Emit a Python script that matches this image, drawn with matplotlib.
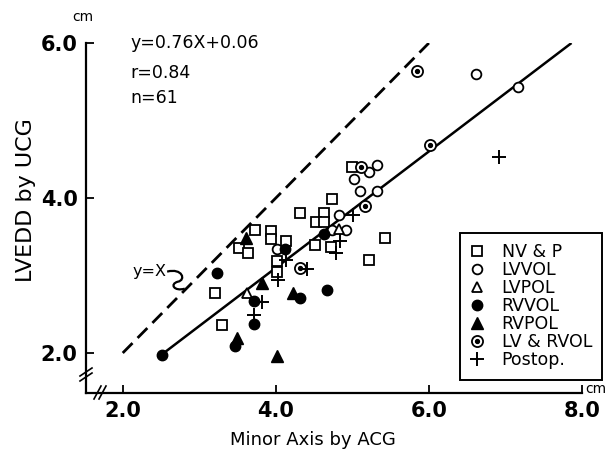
import matplotlib
matplotlib.use('Agg')
import matplotlib.pyplot as plt
from matplotlib.lines import Line2D
from matplotlib.path import Path
from matplotlib.patches import PathPatch

# NV & P (open squares)
nvp_x = [5.00, 4.73, 4.31, 4.63, 4.52, 4.63, 5.42, 4.51, 4.72, 5.22,
         3.73, 3.52, 3.63, 3.94, 3.94, 4.13, 4.02, 4.02, 3.20, 3.30]
nvp_y = [4.40, 3.99, 3.80, 3.80, 3.69, 3.69, 3.49, 3.39, 3.37, 3.20,
         3.59, 3.35, 3.29, 3.57, 3.47, 3.45, 3.19, 3.05, 2.78, 2.36]

# LVVOL (open circles)
lvvol_x = [5.22, 5.32, 5.02, 5.10, 5.32, 4.82, 4.73, 4.92, 4.02, 6.62, 7.16]
lvvol_y = [4.34, 4.42, 4.25, 4.09, 4.09, 3.78, 3.59, 3.59, 3.34, 5.60, 5.43]

# LVPOL (open triangles)
lvpol_x = [4.82, 3.62]
lvpol_y = [3.60, 2.77]

# RVVOL (filled circles)
rvvol_x = [4.63, 4.12, 3.23, 2.51, 3.72, 3.71, 3.47, 4.32, 4.67]
rvvol_y = [3.54, 3.34, 3.03, 1.98, 2.67, 2.38, 2.09, 2.71, 2.81]

# RVPOL (filled triangles)
rvpol_x = [3.61, 3.82, 3.49, 4.01, 4.22]
rvpol_y = [3.48, 2.90, 2.19, 1.96, 2.78]

# LV & RVOL (dotted circles)
lvrv_x = [5.11, 5.17, 4.31, 5.84, 6.01]
lvrv_y = [4.40, 3.90, 3.10, 5.64, 4.69]

# Postop. (plus)
post_x = [5.01, 4.84, 4.79, 4.41, 4.13, 3.82, 3.71, 4.03, 6.92]
post_y = [3.78, 3.44, 3.29, 3.09, 3.20, 2.66, 2.49, 2.94, 4.53]

# identity line and regression line ends
ident_x = [2.0, 6.0]
ident_y = [2.0, 6.0]
reg_x = [2.51, 7.85]
reg_y = [1.98, 5.99]

xticks = [2.0, 4.0, 6.0, 8.0]
yticks = [2.0, 4.0, 6.0]
labels = ['NV & P', 'LVVOL', 'LVPOL', 'RVVOL', 'RVPOL', 'LV & RVOL', 'Postop.']

W, H = 608, 451
fig = plt.figure(figsize=(W / 100, H / 100), dpi=100)
ax = fig.add_axes([86 / W, 1 - 392.5 / H, (582 - 86) / W, (392.5 - 43) / H])

ax.plot(ident_x, ident_y, color='k', lw=2.0, ls=(0, (5, 2.6)), zorder=2)
ax.plot(reg_x, reg_y, color='k', lw=1.8, zorder=2)

h_sq, = ax.plot(nvp_x, nvp_y, 's', ms=6.5, mfc='white', mec='k', mew=1.3, ls='none', zorder=3)
h_c, = ax.plot(lvvol_x, lvvol_y, 'o', ms=7, mfc='white', mec='k', mew=1.3, ls='none', zorder=3)
h_ot, = ax.plot(lvpol_x, lvpol_y, '^', ms=7.5, mfc='white', mec='k', mew=1.3, ls='none', zorder=3)
h_fc, = ax.plot(rvvol_x, rvvol_y, 'o', ms=7.5, mfc='k', mec='k', ls='none', zorder=3)
h_ft, = ax.plot(rvpol_x, rvpol_y, '^', ms=8, mfc='k', mec='k', ls='none', zorder=3)
h_lv1, = ax.plot(lvrv_x, lvrv_y, 'o', ms=8, mfc='white', mec='k', mew=1.3, ls='none', zorder=3)
h_lv2, = ax.plot(lvrv_x, lvrv_y, 'o', ms=2.8, mfc='k', mec='k', ls='none', zorder=4)
h_p, = ax.plot(post_x, post_y, '+', ms=10, mec='k', mew=1.4, ls='none', zorder=3)

ax.set_xlim(1.52, 8.0)
ax.set_ylim(1.49, 6.0)
ax.spines['top'].set_visible(False)
ax.spines['right'].set_visible(False)
ax.spines['left'].set_linewidth(1.6)
ax.spines['bottom'].set_linewidth(1.6)
ax.set_xticks(xticks)
ax.set_xticklabels(['%.1f' % v for v in xticks])
ax.set_yticks(yticks)
ax.set_yticklabels(['%.1f' % v for v in yticks])
ax.tick_params(direction='in', length=6, width=1.3, labelsize=15, pad=6)
for t in ax.get_xticklabels() + ax.get_yticklabels():
    t.set_fontweight('bold')

# equation text
ax.text(2.095, 6.0, 'y=0.76X+0.06', fontsize=12.5, va='center', ha='left')
ax.text(2.095, 5.61, 'r=0.84', fontsize=12.5, va='center', ha='left')
ax.text(2.095, 5.29, 'n=61', fontsize=12.5, va='center', ha='left')

# y=X label with squiggle pointing at the dashed line
ax.text(2.13, 3.05, 'y=X', fontsize=11.5, va='center', ha='left')
verts = [(2.58, 3.05), (2.78, 3.10), (2.83, 2.94), (2.72, 2.92),
         (2.61, 2.89), (2.67, 2.79), (2.81, 2.83)]
codes = [Path.MOVETO, Path.CURVE4, Path.CURVE4, Path.CURVE4,
         Path.CURVE4, Path.CURVE4, Path.CURVE4]
ax.add_patch(PathPatch(Path(verts, codes), fc='none', ec='k', lw=1.6))

# units
fig.text(83 / W, 1 - 17 / H, 'cm', fontsize=10, ha='center', va='center')
fig.text(596 / W, 1 - 389 / H, 'cm', fontsize=10, ha='center', va='center')

# axis labels
fig.text(313 / W, 1 - 440 / H, 'Minor Axis by ACG', fontsize=13, ha='center', va='center')
fig.text(26 / W, 1 - 200 / H, 'LVEDD by UCG', fontsize=16, ha='center', va='center', rotation=90)

# axis break marks
for x0 in (94, 99):
    fig.add_artist(Line2D([x0 / W, (x0 + 7) / W], [1 - 399 / H, 1 - 386 / H],
                          transform=fig.transFigure, color='k', lw=1.2))
for y0 in (372, 377):
    fig.add_artist(Line2D([80 / W, 92 / W], [1 - (y0 + 4) / H, 1 - (y0 - 4) / H],
                          transform=fig.transFigure, color='k', lw=1.2))

leg = ax.legend([h_sq, h_c, h_ot, h_fc, h_ft, (h_lv1, h_lv2), h_p], labels,
                loc='upper left', bbox_to_anchor=(460 / W, 1 - 233 / H),
                bbox_transform=fig.transFigure, borderaxespad=0,
                fontsize=12.5, handlelength=0.8, handletextpad=1.0,
                labelspacing=0.0, borderpad=0.6, fancybox=False,
                framealpha=1, edgecolor='k')
leg.get_frame().set_linewidth(1.4)
leg.set_clip_on(False)

fig.savefig('out.png', dpi=100)
